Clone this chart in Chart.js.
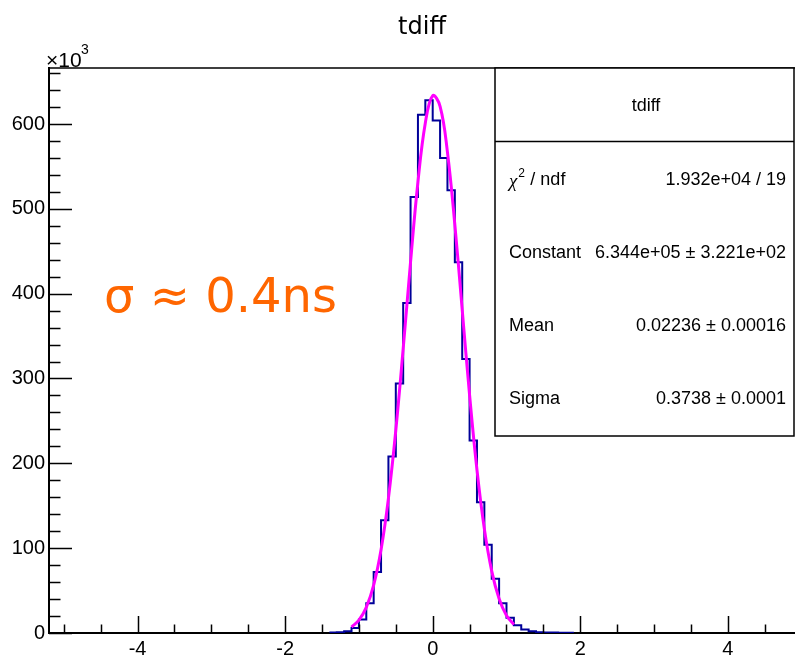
<!DOCTYPE html>
<html>
<head>
<meta charset="utf-8">
<title>tdiff</title>
<script src="https://cdn.jsdelivr.net/npm/chart.js@4.4.1/dist/chart.umd.min.js"></script>
<style>
  html, body { margin: 0; padding: 0; background: #fff; overflow: hidden; }
</style>
</head>
<body>
<canvas id="tdiffChart" width="795" height="660"></canvas>
<script>
// histogram bins (ns), 0.1 wide; counts in units of 10^3
const binEdges = [-1.4, -1.3, -1.2, -1.1, -1.0, -0.9, -0.8, -0.7, -0.6, -0.5, -0.4, -0.3, -0.2, -0.1,
  0.0, 0.1, 0.2, 0.3, 0.4, 0.5, 0.6, 0.7, 0.8, 0.9, 1.0, 1.1, 1.2, 1.3, 1.4, 1.5, 1.6, 1.7, 1.8, 1.9];
const binCounts = [0.6, 1, 2, 6, 16, 35, 72, 133, 208, 294, 389, 514, 611, 628,
  604, 560, 522, 437, 323, 227, 154, 104, 64, 35, 18, 9, 4, 2, 1, 0.5, 0.5, 0.4, 0.3];

// gaus fit curve
const fitX = [-1.1, -1.0, -0.9, -0.8, -0.7, -0.6, -0.5, -0.4, -0.3, -0.2, -0.1, 0.0,
  0.1, 0.2, 0.3, 0.4, 0.5, 0.6, 0.7, 0.8, 0.9, 1.0, 1.1];
const fitY = [7.0, 15.1, 30.2, 56.4, 98.0, 158.7, 239.0, 335.1, 437.4, 531.6, 601.3, 633.3,
  620.9, 566.6, 481.5, 380.8, 280.4, 192.2, 122.7, 72.9, 40.3, 20.7, 9.9];

const xTickValues = [-4, -2, 0, 2, 4];
const yTickValues = [0, 100, 200, 300, 400, 500, 600];

const statsTitle = "tdiff";
const statLabels = ["χ2 / ndf", "Constant", "Mean", "Sigma"];
const statValues = ["1.932e+04 / 19", "6.344e+05 \u00b1 3.221e+02", "0.02236 \u00b1 0.00016", "0.3738 \u00b1 0.0001"];
const note = "σ ≈ 0.4ns";

const ctx = document.getElementById("tdiffChart").getContext("2d");

// inward ticks, top frame line, title, stats box and the note
const rootStyle = {
  id: "rootStyle",
  afterDraw(chart) {
    const { ctx, chartArea: a, scales: { x, y } } = chart;
    ctx.save();
    ctx.strokeStyle = "#000";
    ctx.lineWidth = 1.5;

    ctx.beginPath();
    ctx.moveTo(a.left, a.top);
    ctx.lineTo(a.right, a.top);
    // x ticks
    for (let v = -5; v <= 4.6; v += 0.5) {
      const px = Math.round(x.getPixelForValue(v)) + 0.5;
      const major = xTickValues.some((t) => Math.abs(t - v) < 1e-6);
      ctx.moveTo(px, a.bottom);
      ctx.lineTo(px, a.bottom - (major ? 17 : 8.5));
    }
    // y ticks
    for (let v = 0; v <= 660; v += 20) {
      const py = Math.round(y.getPixelForValue(v)) + 0.5;
      const major = v % 100 === 0;
      ctx.moveTo(a.left, py);
      ctx.lineTo(a.left + (major ? 23 : 11.5), py);
    }
    ctx.stroke();

    // title
    ctx.fillStyle = "#000";
    ctx.textBaseline = "alphabetic";
    ctx.textAlign = "center";
    ctx.font = '24px "DejaVu Sans"';
    ctx.fillText("tdiff", 422, 34);

    // x10^3
    ctx.textAlign = "left";
    ctx.font = '21px "Liberation Sans"';
    ctx.fillText("\u00d710", 46, 67);
    ctx.font = '14px "Liberation Sans"';
    ctx.fillText("3", 81, 54);

    // stats box
    const bx = 495, by = 68, bw = 299, bh = 368;
    ctx.fillStyle = "#fff";
    ctx.fillRect(bx, by, bw, bh);
    ctx.strokeRect(bx, by, bw, bh);
    ctx.beginPath();
    ctx.moveTo(bx, 141.5);
    ctx.lineTo(bx + bw, 141.5);
    ctx.stroke();

    ctx.fillStyle = "#000";
    ctx.textBaseline = "middle";
    ctx.font = '18px "Liberation Sans"';
    ctx.textAlign = "center";
    ctx.fillText(statsTitle, 646, 106);

    const rowY = [180, 253, 326, 399];
    statLabels.forEach((label, i) => {
      ctx.textAlign = "left";
      ctx.font = '18px "Liberation Sans"';
      if (label.startsWith("χ2")) {
        ctx.font = 'italic 19px "Liberation Serif"';
        ctx.fillText("χ", 509, rowY[i] + 2);
        const w = ctx.measureText("χ").width;
        ctx.font = '12px "Liberation Sans"';
        ctx.fillText("2", 509 + w + 1, rowY[i] - 6);
        ctx.font = '18px "Liberation Sans"';
        ctx.fillText(label.slice(2), 509 + w + 8, rowY[i]);
      } else {
        ctx.fillText(label, 509, rowY[i]);
      }
      ctx.textAlign = "right";
      ctx.fillText(statValues[i], 786, rowY[i]);
    });

    // note
    ctx.textAlign = "left";
    ctx.textBaseline = "alphabetic";
    ctx.fillStyle = "#ff6600";
    ctx.font = '48px "DejaVu Sans"';
    ctx.fillText(note, 104, 312);
    ctx.restore();
  },
};

new Chart(ctx, {
  type: "line",
  data: {
    datasets: [
      {
        label: "gaus",
        data: fitX.map((v, i) => ({ x: v, y: fitY[i] })),
        borderColor: "#ff00ff",
        borderWidth: 3,
        pointRadius: 0,
        tension: 0.4,
        fill: false,
        order: 0,
      },
      {
        label: "tdiff",
        data: binEdges.map((e, i) => ({ x: e, y: i < binCounts.length ? binCounts[i] : 0 })),
        borderColor: "#000099",
        borderWidth: 2,
        pointRadius: 0,
        stepped: "before",
        fill: false,
        order: 1,
      },
    ],
  },
  options: {
    responsive: false,
    animation: false,
    layout: { padding: { top: 68, left: 0, right: 0, bottom: 0 } },
    plugins: {
      legend: { display: false },
      tooltip: { enabled: false },
      title: { display: false },
    },
    scales: {
      x: {
        type: "linear",
        min: -5.2,
        max: 4.91,
        afterBuildTicks: (s) => {
          s.ticks = xTickValues.map((v) => ({ value: v }));
        },
        afterFit: (s) => {
          s.height = 27;
        },
        grid: { display: false, drawTicks: false },
        border: { color: "#000", width: 2 },
        ticks: {
          color: "#000",
          padding: 4,
          maxRotation: 0,
          font: { family: "Liberation Sans", size: 20 },
          callback: (v) => String(v),
        },
      },
      y: {
        min: 0,
        max: 666,
        afterBuildTicks: (s) => {
          s.ticks = yTickValues.map((v) => ({ value: v }));
        },
        afterFit: (s) => {
          s.width = 49;
        },
        grid: { display: false, drawTicks: false },
        border: { color: "#000", width: 2 },
        ticks: {
          color: "#000",
          padding: 4,
          font: { family: "Liberation Sans", size: 20 },
          callback: (v) => String(v),
        },
      },
    },
  },
  plugins: [rootStyle],
});
</script>
</body>
</html>
